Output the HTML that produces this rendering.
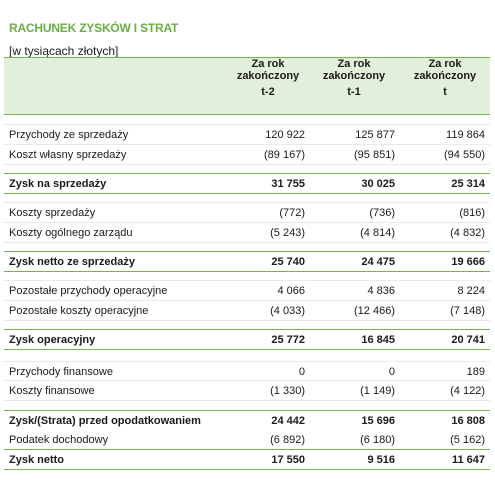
<!DOCTYPE html>
<html><head><meta charset="utf-8">
<style>
html,body{margin:0;padding:0;background:#fff;}
body{width:495px;height:500px;position:relative;overflow:hidden;font-family:"Liberation Sans",Arial,sans-serif;color:#1a1a1a;}
.a{position:absolute;white-space:nowrap;}
.t{font-size:12px;font-weight:bold;color:#6aae46;left:9px;top:21px;letter-spacing:-0.2px;}
.sub{font-size:12px;left:9px;top:44px;}
.band{left:4px;top:57px;width:486px;height:58px;background:#e2efda;border-top:1px solid #7ab253;border-bottom:1px solid #7ab253;box-sizing:border-box;}
.h{font-size:11px;font-weight:bold;text-align:center;width:90px;line-height:12px;}
.ln{left:4px;width:486px;height:1px;}
.g{background:#eaeaea;}
.gr{background:#7ab253;}
.lbl{left:9px;font-size:11px;line-height:14px;}
.v{font-size:11px;line-height:14px;text-align:right;width:80px;}
.b{font-weight:bold;}
</style></head><body>
<div class="a t">RACHUNEK ZYSKÓW I STRAT</div>
<div class="a sub">[w tysiącach złotych]</div>
<div class="a band"></div>
<div class="a h" style="left:223px;top:58px">Za rok<br>zakończony<div style="margin-top:4px">t-2</div></div>
<div class="a h" style="left:309px;top:58px">Za rok<br>zakończony<div style="margin-top:4px">t-1</div></div>
<div class="a h" style="left:400px;top:58px">Za rok<br>zakończony<div style="margin-top:4px">t</div></div>

<div id="rows"></div>
<script>
const labels=["Przychody ze sprzedaży","Koszt własny sprzedaży","Zysk na sprzedaży","Koszty sprzedaży","Koszty ogólnego zarządu","Zysk netto ze sprzedaży","Pozostałe przychody operacyjne","Pozostałe koszty operacyjne","Zysk operacyjny","Przychody finansowe","Koszty finansowe","Zysk/(Strata) przed opodatkowaniem","Podatek dochodowy","Zysk netto"];
const colT2=["120 922","(89 167)","31 755","(772)","(5 243)","25 740","4 066","(4 033)","25 772","0","(1 330)","24 442","(6 892)","17 550"];
const colT1=["125 877","(95 851)","30 025","(736)","(4 814)","24 475","4 836","(12 466)","16 845","0","(1 149)","15 696","(6 180)","9 516"];
const colT=["119 864","(94 550)","25 314","(816)","(4 832)","19 666","8 224","(7 148)","20 741","189","(4 122)","16 808","(5 162)","11 647"];
const boldRows=[2,5,8,11,13];
const rowY=[135,155,184,213,233,262,291,311,340,372,391,421,440,460];
const greyLines=[124,144,164,202,222,242,280,300,320,361,380,400];
const greenLines=[173,193,251,271,329,349,410,449,469];
const body=document.body;
greyLines.forEach(y=>{const d=document.createElement('div');d.className='a ln g';d.style.top=y+'px';


body.appendChild(d);});
greenLines.forEach(y=>{const d=document.createElement('div');d.className='a ln gr';d.style.top=y+'px';


body.appendChild(d);});
const cols=[[colT2,305,'t-2'],[colT1,395,'t-1'],[colT,485,'t']];
labels.forEach((l,i)=>{
  const b=boldRows.includes(i)?' b':'';
  const top=rowY[i]-7;
  const d=document.createElement('div');d.className='a lbl'+b;d.style.top=top+'px';d.textContent=l;
  
  
  body.appendChild(d);
  cols.forEach(c=>{const v=document.createElement('div');v.className='a v'+b;v.style.top=top+'px';v.style.left=(c[1]-80)+'px';v.textContent=c[0][i];
    
    
    body.appendChild(v);});
});
</script>
</body></html>
